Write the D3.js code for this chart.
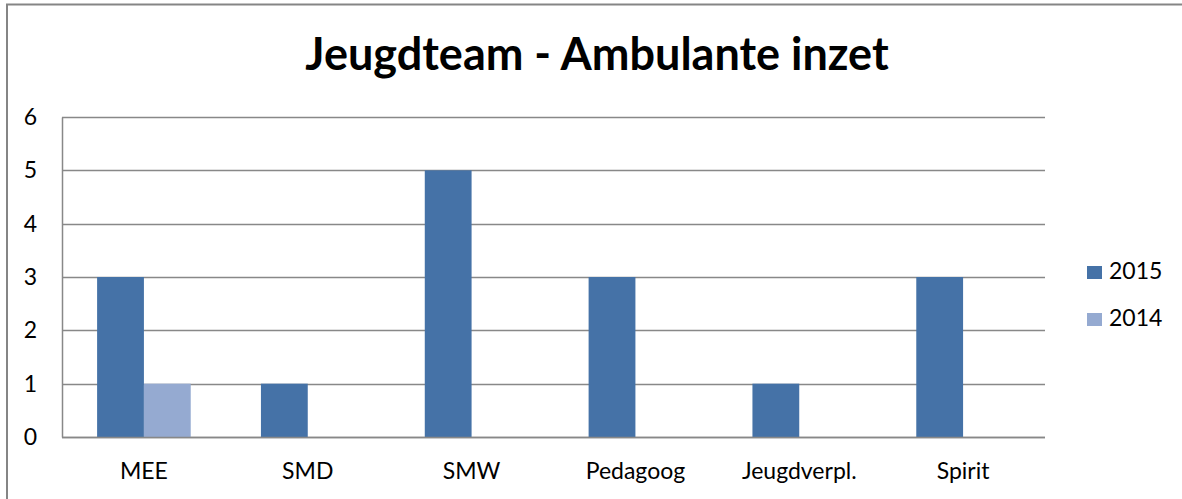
<!DOCTYPE html>
<html>
<head>
<meta charset="utf-8">
<script src="https://cdn.jsdelivr.net/npm/d3@7"></script>
<style>
  body { margin: 0; background: #fff; }
  svg text { font-family: Lato, "Open Sans", sans-serif; fill: #000; }
</style>
</head>
<body>
<div id="chart"></div>
<script>
var categories = ["MEE", "SMD", "SMW", "Pedagoog", "Jeugdverpl.", "Spirit"];
var seriesNames = ["2015", "2014"];
var values2015 = [3, 1, 5, 3, 1, 3];
var values2014 = [1, 0, 0, 0, 0, 0];
var yTicks = [0, 1, 2, 3, 4, 5, 6];
var colors = ["#4572a7", "#95aad1"];

var width = 1182,
  height = 499;
var margin = { left: 62, right: 137, top: 117, bottom: 62 };

var svg = d3
  .select("#chart")
  .append("svg")
  .attr("width", width)
  .attr("height", height);

// outer frame (runs off the right and bottom edges)
svg
  .append("rect")
  .attr("x", 7)
  .attr("y", 4.5)
  .attr("width", width + 20)
  .attr("height", height + 20)
  .attr("fill", "none")
  .attr("stroke", "#858585")
  .attr("stroke-width", 2);

svg
  .append("text")
  .attr("x", 597)
  .attr("y", 70)
  .attr("text-anchor", "middle")
  .attr("font-size", "45px")
  .attr("font-weight", "bold")
  .text("Jeugdteam - Ambulante inzet");

var x = d3
  .scaleBand()
  .domain(categories)
  .range([margin.left, width - margin.right]);

var x1 = d3
  .scaleBand()
  .domain(seriesNames)
  .range([0, x.bandwidth()])
  .paddingOuter(0.75);

var y = d3
  .scaleLinear()
  .domain([0, 6])
  .range([height - margin.bottom, margin.top]);

// gridlines
svg
  .append("g")
  .selectAll("line")
  .data(yTicks)
  .enter()
  .append("line")
  .attr("x1", margin.left)
  .attr("x2", width - margin.right)
  .attr("y1", function (d) {
    return Math.round(y(d)) + 0.5;
  })
  .attr("y2", function (d) {
    return Math.round(y(d)) + 0.5;
  })
  .attr("stroke", "#888")
  .attr("stroke-width", 1.5);

var yAxis = d3
  .axisLeft(y)
  .tickValues(yTicks)
  .tickFormat(d3.format("d"))
  .tickSize(0)
  .tickPadding(25);
svg
  .append("g")
  .attr("class", "y-axis")
  .attr("transform", "translate(" + margin.left + ",0)")
  .call(yAxis)
  .call(function (g) {
    g.select(".domain").attr("stroke", "#888").attr("stroke-width", 1.5);
    g.selectAll("text").attr("font-size", "23px").attr("font-family", null);
  });

var rows = categories.map(function (c, i) {
  return { category: c, values: [values2015[i], values2014[i]] };
});

var groups = svg
  .append("g")
  .selectAll("g")
  .data(rows)
  .enter()
  .append("g")
  .attr("transform", function (d) {
    return "translate(" + x(d.category) + ",0)";
  });

groups
  .selectAll("rect")
  .data(function (d) {
    return d.values.map(function (v, i) {
      return { series: seriesNames[i], value: v, color: colors[i] };
    });
  })
  .enter()
  .append("rect")
  .attr("x", function (d) {
    return x1(d.series);
  })
  .attr("width", x1.bandwidth())
  .attr("y", function (d) {
    return y(d.value);
  })
  .attr("height", function (d) {
    return y(0) - y(d.value);
  })
  .attr("fill", function (d) {
    return d.color;
  });

// baseline over the bars
svg
  .append("line")
  .attr("x1", margin.left)
  .attr("x2", width - margin.right)
  .attr("y1", Math.round(y(0)) + 0.5)
  .attr("y2", Math.round(y(0)) + 0.5)
  .attr("stroke", "#888")
  .attr("stroke-width", 1.5);

var xAxis = d3.axisBottom(x).tickSize(0).tickPadding(26);
svg
  .append("g")
  .attr("transform", "translate(0," + (height - margin.bottom) + ")")
  .call(xAxis)
  .call(function (g) {
    g.select(".domain").remove();
    g.selectAll("text").attr("font-size", "23px").attr("font-family", null);
  });

var legend = svg
  .append("g")
  .selectAll("g")
  .data(seriesNames)
  .enter()
  .append("g")
  .attr("transform", function (d, i) {
    return "translate(1087," + (264 + i * 47) + ")";
  });

legend
  .append("rect")
  .attr("y", 2)
  .attr("width", 15)
  .attr("height", 13)
  .attr("fill", function (d, i) {
    return colors[i];
  });

legend
  .append("text")
  .attr("x", 22)
  .attr("y", 15)
  .attr("font-size", "23px")
  .text(function (d) {
    return d;
  });
</script>
</body>
</html>
